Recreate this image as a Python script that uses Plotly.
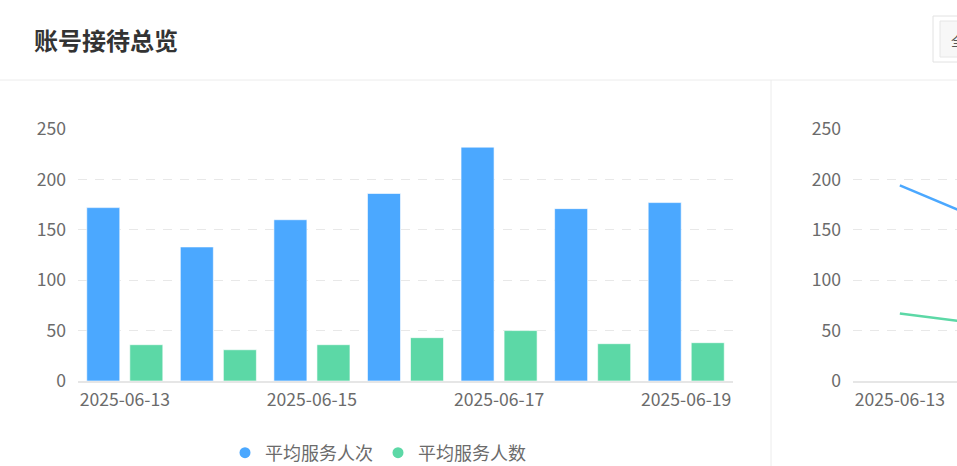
import plotly.graph_objects as go

W, H = 957, 466

# left panel: daily bars
dates = ["2025-06-13", "2025-06-14", "2025-06-15", "2025-06-16",
         "2025-06-17", "2025-06-18", "2025-06-19"]
avg_service_times = [172, 133, 160, 186, 232, 171, 177]
avg_service_people = [36, 31, 36, 43, 50, 37, 38]
shown_dates = ["2025-06-13", "2025-06-15", "2025-06-17", "2025-06-19"]

# right panel: trend lines (only the start is visible)
trend_dates = ["2025-06-13", "2025-06-14"]
trend_times = [194, 155]
trend_people = [67, 55]

series_names = ["平均服务人次", "平均服务人数"]
BLUE = "#4ba8ff"
GREEN = "#5cd8a6"
TICK = "#6b6b6b"
GRID = "#e8e8e8"
FONT = "Noto Sans CJK SC"


def fx(px):
    return px / W


def fy(py):
    return 1 - py / H


fig = go.Figure()

fig.add_trace(go.Bar(
    x=dates, y=avg_service_times, name=series_names[0],
    marker=dict(color=BLUE, line=dict(color="rgba(255,255,255,0.6)", width=1)),
    showlegend=False, xaxis="x", yaxis="y"))
fig.add_trace(go.Bar(
    x=dates, y=avg_service_people, name=series_names[1],
    marker=dict(color=GREEN, line=dict(color="rgba(255,255,255,0.6)", width=1)),
    showlegend=False, xaxis="x", yaxis="y"))

# legend entries with round symbols
for name, color in zip(series_names, [BLUE, GREEN]):
    fig.add_trace(go.Scatter(
        x=[None], y=[None], mode="markers", name=name,
        marker=dict(symbol="circle", size=11, color=color),
        xaxis="x", yaxis="y"))

fig.add_trace(go.Scatter(
    x=trend_dates, y=trend_times, mode="lines",
    line=dict(color=BLUE, width=2.5), showlegend=False,
    xaxis="x2", yaxis="y2"))
fig.add_trace(go.Scatter(
    x=trend_dates, y=trend_people, mode="lines",
    line=dict(color=GREEN, width=2.5), showlegend=False,
    xaxis="x2", yaxis="y2"))

axis_font = dict(family=FONT, size=17.6, color=TICK)
y_common = dict(
    range=[0, 250], dtick=50, tickfont=axis_font, ticks="",
    showgrid=True, gridcolor=GRID, griddash="9px,8px", gridwidth=1,
    zeroline=False, showline=False, ticklabelstandoff=11,
    domain=[fy(381), fy(129)], fixedrange=True)
x_common = dict(
    type="category", tickfont=axis_font, ticks="", showgrid=False,
    showline=True, linecolor="#e6e6e6", linewidth=2, zeroline=False,
    ticklabelstandoff=2, fixedrange=True)

shapes = [
    # header divider
    dict(type="line", xref="paper", yref="paper",
         x0=0, x1=1, y0=fy(80), y1=fy(80),
         line=dict(color="#ececec", width=1)),
    # panel divider
    dict(type="line", xref="paper", yref="paper",
         x0=fx(771), x1=fx(771), y0=0, y1=fy(80),
         line=dict(color="#ececec", width=1)),
    # select box, cut by the right edge
    dict(type="rect", xref="paper", yref="paper",
         x0=fx(933), x1=fx(990), y0=fy(62), y1=fy(16),
         line=dict(color="#e2e2e2", width=1), fillcolor="white"),
    dict(type="rect", xref="paper", yref="paper",
         x0=fx(940), x1=fx(990), y0=fy(57), y1=fy(21),
         line=dict(color="#e6e6e6", width=1), fillcolor="#f7f7f7"),
]

annotations = [
    dict(text="<b>账号接待总览</b>", xref="paper", yref="paper",
         x=fx(32), y=fy(40), xanchor="left", yanchor="middle",
         showarrow=False, font=dict(family=FONT, size=24, color="#333333")),
    dict(text="全部", xref="paper", yref="paper",
         x=fx(949), y=fy(40), xanchor="left", yanchor="middle",
         showarrow=False, font=dict(family=FONT, size=14, color="#555555")),
]

fig.update_layout(
    width=W, height=H,
    margin=dict(l=0, r=0, t=0, b=0, autoexpand=False),
    paper_bgcolor="white", plot_bgcolor="white",
    font=dict(family=FONT, color=TICK),
    barmode="group", bargap=0.08, bargroupgap=0.233,
    xaxis=dict(x_common, domain=[fx(78), fx(733)], range=[-0.5, 6.5],
               tickvals=shown_dates, anchor="y"),
    yaxis=dict(y_common, anchor="x"),
    xaxis2=dict(x_common, domain=[fx(853), 1], range=[-0.5, 0.61],
                anchor="y2"),
    yaxis2=dict(y_common, anchor="x2"),
    legend=dict(orientation="h", x=fx(378), xanchor="center",
                y=fy(453), yanchor="middle", itemwidth=30,
                font=dict(family=FONT, size=18, color=TICK),
                bgcolor="rgba(0,0,0,0)"),
    shapes=shapes,
    annotations=annotations,
    showlegend=True,
)

fig.write_html("out.html", config={"displayModeBar": False},
               post_script="document.body.style.margin = '0';")
